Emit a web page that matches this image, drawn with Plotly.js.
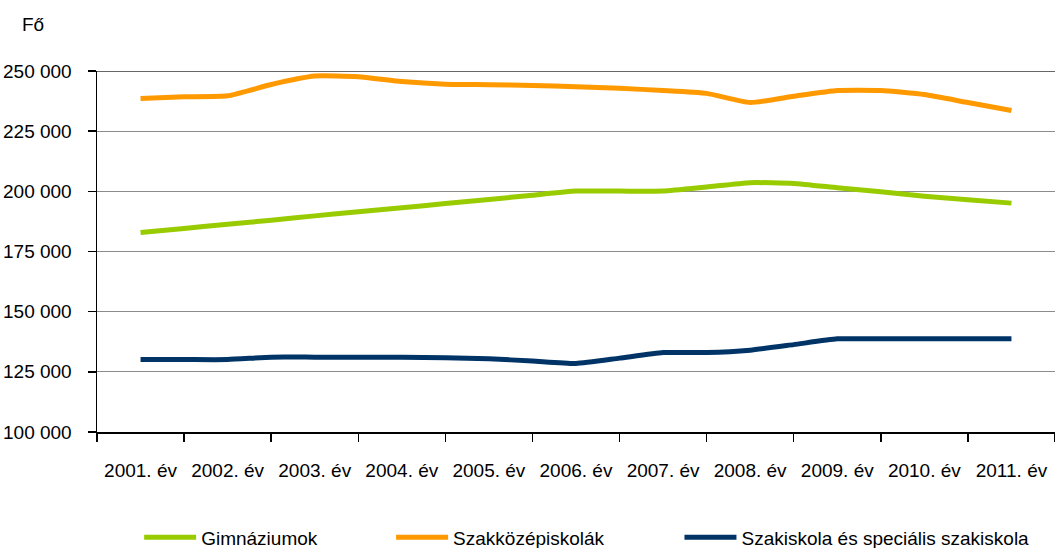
<!DOCTYPE html>
<html>
<head>
<meta charset="utf-8">
<script src="https://cdn.plot.ly/plotly-3.0.1.min.js"></script>
<style>html,body{margin:0;padding:0;background:#fff}#chart{width:1055px;height:548px}</style>
</head>
<body>
<div id="chart"></div>
<script>
const periods = [2001, 2001.5, 2002, 2002.5, 2003, 2003.5, 2004, 2004.5, 2005, 2005.5, 2006,
                 2006.5, 2007, 2007.5, 2008, 2008.5, 2009, 2009.5, 2010, 2010.5, 2011];
const years = [2001, 2002, 2003, 2004, 2005, 2006, 2007, 2008, 2009, 2010, 2011];
const yearLabels = ["2001. év", "2002. év", "2003. év", "2004. év", "2005. év", "2006. év",
                    "2007. év", "2008. év", "2009. év", "2010. év", "2011. év"];
const gimnaziumok = [182900, 184600, 186300, 188000, 189800, 191500, 193200, 194900, 196600, 198400, 200100,
                     200100, 200100, 201800, 203600, 203300, 201500, 199800, 198000, 196500, 195100];
const szakkozep = [238600, 239300, 239700, 244400, 247900, 247600, 245600, 244500, 244300, 244000, 243500,
                   242800, 241900, 240700, 236900, 239500, 241900, 241900, 240200, 236900, 233600];
const szakiskola = [130100, 130100, 130100, 131100, 131100, 131100, 131100, 130800, 130400, 129500, 128500,
                    130700, 133000, 133000, 134000, 136300, 138700, 138700, 138700, 138700, 138700];
const seriesNames = ["Gimnáziumok", "Szakközépiskolák", "Szakiskola és speciális szakiskola"];
const colors = ["#99cc00", "#ff9900", "#003366"];

const FONT = "'Liberation Sans', Arial, sans-serif";
const seriesData = [gimnaziumok, szakkozep, szakiskola];
const legendKeys = ["legend", "legend2", "legend3"];
const traces = seriesData.map((vals, i) => ({
  x: periods, y: vals, type: "scatter", mode: "lines", name: seriesNames[i],
  line: {color: colors[i], width: 5, shape: "spline", smoothing: 0.5},
  legend: legendKeys[i], hoverinfo: "x+y"
}));

const legendBase = {orientation: "h", xanchor: "left", yanchor: "middle", y: -0.292,
  font: {family: FONT, size: 19, color: "#000"}, bgcolor: "rgba(0,0,0,0)", itemwidth: 52};

const layout = {
  width: 1055, height: 548,
  margin: {l: 97, r: 0, t: 71, b: 116, autoexpand: false},
  paper_bgcolor: "#fff", plot_bgcolor: "#fff",
  separators: ", ",
  font: {family: FONT, size: 19, color: "#000"},
  xaxis: {
    range: [2000.5, 2011.5], tickmode: "array", tickvals: years, ticktext: yearLabels,
    ticks: "", showgrid: false, zeroline: false,
    showline: true, linecolor: "#000", linewidth: 1.5,
    ticklabelstandoff: 21,
    tickfont: {family: FONT, size: 19, color: "#000"},
    minor: {tick0: 2000.5, dtick: 1, ticks: "outside", ticklen: 8, tickcolor: "#000", tickwidth: 1.5, showgrid: false}
  },
  yaxis: {
    range: [100000, 250000], tickmode: "linear", tick0: 100000, dtick: 25000, tickformat: ",d",
    showgrid: true, gridcolor: "#8c8c8c", gridwidth: 1.2, zeroline: false,
    showline: true, linecolor: "#000", linewidth: 1.5,
    ticks: "outside", ticklen: 8, tickcolor: "#000", tickwidth: 1.5,
    ticklabelstandoff: 12,
    tickfont: {family: FONT, size: 19, color: "#000"}
  },
  shapes: [{type: "line", xref: "paper", x0: 0, x1: 1, yref: "y", y0: 250000, y1: 250000,
            line: {color: "#333", width: 1.5}}],
  annotations: [{text: "Fő", xref: "paper", yref: "paper", x: -0.08, y: 1.13, xanchor: "left", yanchor: "middle",
                 showarrow: false, font: {family: FONT, size: 19, color: "#000"}}],
  legend: Object.assign({}, legendBase, {x: 0.044}),
  legend2: Object.assign({}, legendBase, {x: 0.307}),
  legend3: Object.assign({}, legendBase, {x: 0.608}),
  showlegend: true
};

Plotly.newPlot("chart", traces, layout, {displayModeBar: false, staticPlot: true});
</script>
</body>
</html>
